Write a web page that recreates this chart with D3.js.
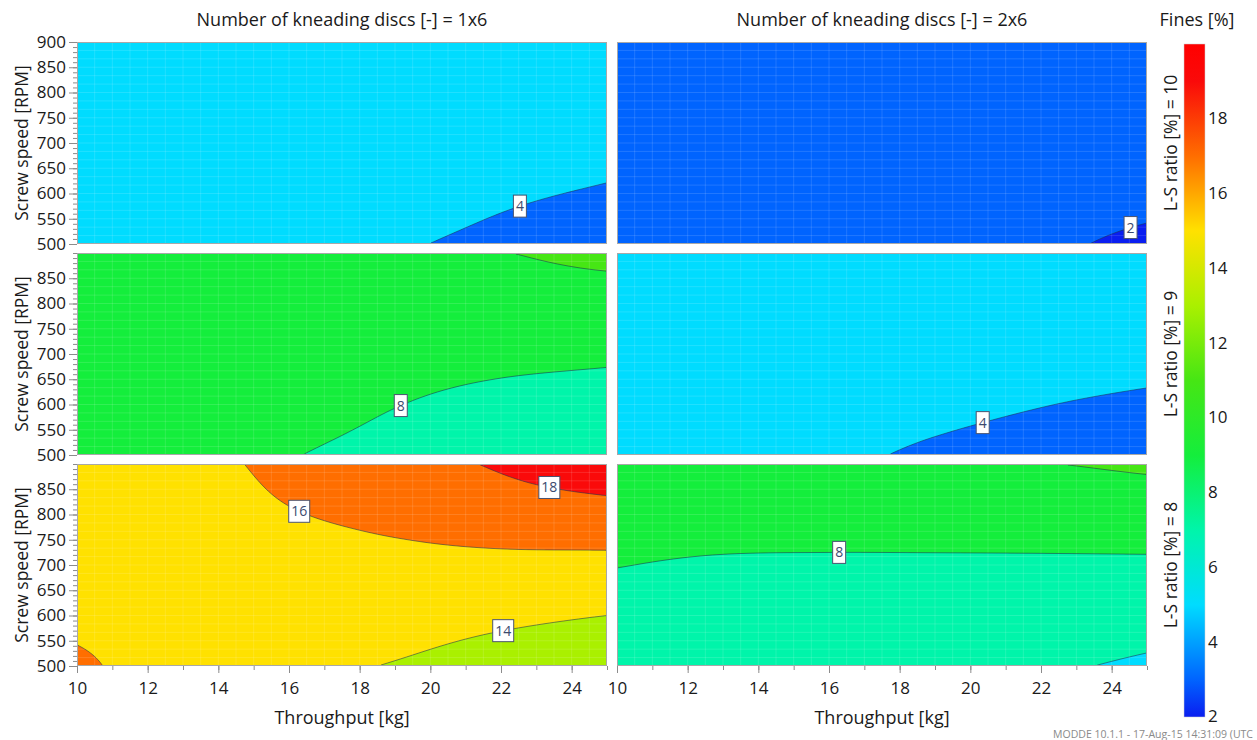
<!DOCTYPE html>
<html>
<head>
<meta charset="utf-8">
<script src="https://cdn.jsdelivr.net/npm/d3@7"></script>
<style>
  body { margin: 0; background: #fff; }
  svg { display: block; }
  text { font-family: "Open Sans", "Noto Sans", sans-serif; fill: #1a1a1a; }
</style>
</head>
<body>
<svg id="chart" width="1257" height="740"></svg>
<script>
// ---- data -------------------------------------------------------------
const discs = ["1x6", "2x6"];
const lsRatios = [10, 9, 8];
const throughputNodes = [10, 13, 16, 19, 22, 25];      // kg
const speedNodes = [500, 600, 700, 800, 900];           // RPM
// Predicted Fines [%]; one row per screw speed node (500 -> 900),
// one column per throughput node (10 -> 25)
const fines_1x6_ls10 = [
  [5.5, 5.3, 4.9, 4.22, 3.5, 2.6],
  [5.6, 5.5, 5.3, 4.9, 4.3, 3.8],
  [5.7, 5.6, 5.5, 5.3, 5.0, 4.6],
  [5.8, 5.7, 5.6, 5.5, 5.4, 5.2],
  [5.8, 5.8, 5.7, 5.7, 5.6, 5.5]
];
const fines_2x6_ls10 = [
  [3.4, 3.2, 3.0, 2.7, 2.3, 1.6],
  [3.5, 3.4, 3.2, 3.0, 2.8, 2.5],
  [3.6, 3.5, 3.4, 3.3, 3.1, 2.9],
  [3.7, 3.6, 3.5, 3.4, 3.3, 3.2],
  [3.7, 3.7, 3.6, 3.5, 3.5, 3.4]
];
const fines_1x6_ls9 = [
  [9.4, 9.0, 8.1, 7.4, 7.0, 6.7],
  [9.6, 9.3, 8.8, 8.05, 7.5, 7.2],
  [9.7, 9.5, 9.2, 8.8, 8.5, 8.3],
  [9.8, 9.7, 9.6, 9.5, 9.4, 9.3],
  [9.8, 9.8, 9.8, 9.9, 9.97, 10.4]
];
const fines_2x6_ls9 = [
  [5.5, 5.0, 4.4, 3.7, 3.2, 2.9],
  [5.7, 5.4, 5.0, 4.5, 4.05, 3.7],
  [5.8, 5.6, 5.4, 5.1, 4.8, 4.6],
  [5.9, 5.8, 5.6, 5.4, 5.3, 5.2],
  [5.9, 5.9, 5.8, 5.7, 5.6, 5.6]
];
const fines_1x6_ls8 = [
  [16.5, 14.6, 14.3, 13.93, 13.4, 13.0],
  [15.4, 15.0, 14.8, 14.6, 14.3, 14.0],
  [15.1, 15.0, 15.1, 15.4, 15.5, 15.5],
  [15.0, 15.3, 15.9, 16.5, 17.1, 17.3],
  [15.0, 15.5, 16.4, 17.3, 18.2, 19.2]
];
const fines_2x6_ls8 = [
  [7.0, 6.8, 6.7, 6.6, 6.2, 5.8],
  [7.3, 7.0, 6.9, 6.9, 6.8, 6.6],
  [8.05, 7.76, 7.7, 7.7, 7.7, 7.7],
  [9.0, 9.0, 9.0, 9.05, 9.1, 9.2],
  [9.6, 9.7, 9.8, 9.9, 9.97, 10.2]
];
const contourLevels = [2, 4, 6, 8, 10, 12, 14, 16, 18];
const throughputTicks = [10, 12, 14, 16, 18, 20, 22, 24];
const speedTicks = [500, 550, 600, 650, 700, 750, 800, 850, 900];
const colorbarTicks = [2, 4, 6, 8, 10, 12, 14, 16, 18];
// contour labels: panel, level, position along the line (0..1 from its left end)
const labelPanels = ["1x6|10", "2x6|10", "1x6|9", "2x6|9", "1x6|8", "1x6|8", "1x6|8", "2x6|8"];
const labelLevels = [4, 2, 8, 4, 16, 18, 14, 8];
const labelAlong  = [0.52, 0.72, 0.34, 0.37, 0.19, 0.56, 0.55, 0.42];

// ---- style & layout ---------------------------------------------------
// fill per band: <2, 2-4, 4-6, ..., 16-18, >=18
const bandFills = ["#0a1ef0", "#0064ff", "#00dcff", "#00f5aa", "#14ee3c",
                   "#46e614", "#aaf000", "#ffe100", "#ff6e00", "#fa0a0a"];
const colX = [77, 617], panelW = 530;
const rowY = [42, 253, 464], panelH = 202;
const nx = 265, ny = 101;

const svg = d3.select("#chart");
const defs = svg.append("defs");

function catmull(p0, p1, p2, p3, f) {
  return 0.5 * (2 * p1 + (p2 - p0) * f + (2 * p0 - 5 * p1 + 4 * p2 - p3) * f * f
    + (3 * p1 - p0 - 3 * p2 + p3) * f * f * f);
}
function sample1(arr, u) {
  const n = arr.length;
  let i = Math.floor(u);
  if (i > n - 2) i = n - 2;
  if (i < 0) i = 0;
  const f = u - i;
  const get = k => k < 0 ? 2 * arr[0] - arr[1] : (k > n - 1 ? 2 * arr[n - 1] - arr[n - 2] : arr[k]);
  return catmull(get(i - 1), get(i), get(i + 1), get(i + 2), f);
}
function surface(grid, t, s) {
  const u = (t - throughputNodes[0]) / (throughputNodes[1] - throughputNodes[0]);
  const v = (s - speedNodes[0]) / (speedNodes[1] - speedNodes[0]);
  return sample1(grid.map(row => sample1(row, u)), v);
}

const panels = [
  { disc: "1x6", ls: 10, grid: fines_1x6_ls10 },
  { disc: "2x6", ls: 10, grid: fines_2x6_ls10 },
  { disc: "1x6", ls: 9,  grid: fines_1x6_ls9 },
  { disc: "2x6", ls: 9,  grid: fines_2x6_ls9 },
  { disc: "1x6", ls: 8,  grid: fines_1x6_ls8 },
  { disc: "2x6", ls: 8,  grid: fines_2x6_ls8 }
];

panels.forEach((p, pi) => {
  const col = discs.indexOf(p.disc), row = lsRatios.indexOf(p.ls);
  const x0 = colX[col], y0 = rowY[row];
  const x = d3.scaleLinear().domain([10, 25]).range([x0, x0 + panelW]);
  const y = d3.scaleLinear().domain([500, 900]).range([y0 + panelH, y0]);
  const g = svg.append("g");
  const clipId = "clip" + pi;
  defs.append("clipPath").attr("id", clipId)
    .append("rect").attr("x", x0).attr("y", y0).attr("width", panelW).attr("height", panelH);
  const body = g.append("g").attr("clip-path", `url(#${clipId})`);

  // raster of the response surface
  const values = new Array(nx * ny);
  for (let j = 0; j < ny; j++) {
    const s = y.invert(y0 + (j + 0.5) * panelH / ny);
    for (let i = 0; i < nx; i++) {
      const t = x.invert(x0 + (i + 0.5) * panelW / nx);
      values[j * nx + i] = surface(p.grid, t, s);
    }
  }
  const contours = d3.contours().size([nx, ny]).thresholds(contourLevels)(values);
  const toPx = pt => [x0 + pt[0] * panelW / nx, y0 + pt[1] * panelH / ny];
  const path = d3.geoPath(d3.geoTransform({
    point(a, b) { const q = toPx([a, b]); this.stream.point(q[0], q[1]); }
  }));

  body.append("rect").attr("x", x0).attr("y", y0).attr("width", panelW).attr("height", panelH)
    .attr("fill", bandFills[0]);
  body.selectAll("path.band").data(contours).join("path")
    .attr("class", "band")
    .attr("d", path)
    .attr("fill", d => bandFills[contourLevels.indexOf(d.value) + 1]);

  // faint mesh lines
  const meshT = d3.range(10.5, 25, 0.5), meshS = d3.range(0, 24).map(k => 500 + k * 400 / 24);
  body.selectAll("line.mv").data(meshT).join("line").attr("class", "mv")
    .attr("x1", d => x(d)).attr("x2", d => x(d)).attr("y1", y0).attr("y2", y0 + panelH)
    .attr("stroke", "#ffffff").attr("stroke-opacity", 0.13).attr("stroke-width", 1);
  body.selectAll("line.mh").data(meshS.slice(1)).join("line").attr("class", "mh")
    .attr("y1", d => y(d)).attr("y2", d => y(d)).attr("x1", x0).attr("x2", x0 + panelW)
    .attr("stroke", "#ffffff").attr("stroke-opacity", 0.13).attr("stroke-width", 1);

  // contour lines (ring edges that do not run along the panel border)
  const onBorder = q => q[0] <= 1e-6 || q[0] >= nx - 1e-6 || q[1] <= 1e-6 || q[1] >= ny - 1e-6;
  const linesByLevel = {};
  contours.forEach(c => {
    const lines = [];
    c.coordinates.forEach(poly => poly.forEach(ring => {
      const n = ring.length - 1;
      let start = -1;
      for (let k = 0; k < n; k++) {
        if (onBorder(ring[k]) && onBorder(ring[k + 1])) { start = k + 1; break; }
      }
      if (start < 0) { lines.push(ring.slice()); return; }
      let cur = null;
      for (let m = 0; m < n; m++) {
        const a = ring[(start + m) % n], b = ring[(start + m + 1) % n];
        if (!(onBorder(a) && onBorder(b))) {
          if (!cur) cur = [a];
          cur.push(b);
        } else if (cur) { lines.push(cur); cur = null; }
      }
      if (cur) lines.push(cur);
    }));
    linesByLevel[c.value] = lines.map(l => {
      const px = l.map(toPx);
      if (px[0][0] > px[px.length - 1][0]) px.reverse();
      return px;
    });
  });
  const line = d3.line();
  contourLevels.forEach(lv => {
    body.selectAll(null).data(linesByLevel[lv] || []).join("path")
      .attr("d", line).attr("fill", "none")
      .attr("stroke", "#1e3250").attr("stroke-opacity", 0.55).attr("stroke-width", 1);
  });

  // contour labels
  const key = p.disc + "|" + p.ls;
  labelPanels.forEach((lp, k) => {
    if (lp !== key) return;
    const lines = linesByLevel[labelLevels[k]] || [];
    if (!lines.length) return;
    const best = lines.reduce((a, b) => (lineLen(b) > lineLen(a) ? b : a));
    const pt = pointAlong(best, labelAlong[k]);
    const txt = String(labelLevels[k]);
    const bw = txt.length > 1 ? 21 : 13, bh = 22;
    const lg = g.append("g");
    lg.append("rect").attr("x", pt[0] - bw / 2).attr("y", pt[1] - bh / 2)
      .attr("width", bw).attr("height", bh)
      .attr("fill", "#fff").attr("stroke", "#4a5470").attr("stroke-width", 1);
    lg.append("text").attr("x", pt[0]).attr("y", pt[1] + 5).attr("text-anchor", "middle")
      .style("font-size", "14px").style("fill", "#3c4a6e").text(txt);
  });

  // frame
  g.append("rect").attr("x", x0 + 0.5).attr("y", y0 + 0.5).attr("width", panelW - 1).attr("height", panelH - 1)
    .attr("fill", "none").attr("stroke", "#a8a8a8").attr("stroke-width", 1);

  // y axis on the left column
  if (col === 0) {
    const yAxis = g.append("g").attr("transform", `translate(${x0},0)`);
    yAxis.call(d3.axisLeft(y).tickValues(d3.range(500, 901, 10)).tickSize(4).tickFormat(""))
      .call(a => a.select(".domain").remove())
      .call(a => a.selectAll("line").attr("stroke", "#8c8c8c"));
    const shown = row === 0 ? speedTicks : speedTicks.filter(v => v < 900);
    const yMaj = g.append("g").attr("transform", `translate(${x0},0)`);
    yMaj.call(d3.axisLeft(y).tickValues(shown).tickSize(8).tickPadding(3))
      .call(a => a.select(".domain").remove())
      .call(a => a.selectAll("line").attr("stroke", "#8c8c8c"))
      .call(a => a.selectAll("text").style("font-size", "17px").style("fill", "#1a1a1a")
        .style("font-family", '"Open Sans", sans-serif'));
    g.append("text").attr("transform", `translate(${22},${y0 + panelH / 2}) rotate(-90)`)
      .attr("text-anchor", "middle").attr("dy", "0.35em").style("font-size", "17.5px")
      .text("Screw speed [RPM]");
  }
  // x axis on the bottom row
  if (row === lsRatios.length - 1) {
    const xm = g.append("g").attr("transform", `translate(0,${y0 + panelH})`);
    xm.call(d3.axisBottom(x).tickValues(d3.range(10, 25.01, 1)).tickSize(4).tickFormat(""))
      .call(a => a.select(".domain").remove())
      .call(a => a.selectAll("line").attr("stroke", "#8c8c8c"));
    const xa = g.append("g").attr("transform", `translate(0,${y0 + panelH})`);
    xa.call(d3.axisBottom(x).tickValues(throughputTicks).tickSize(7).tickPadding(9))
      .call(a => a.select(".domain").remove())
      .call(a => a.selectAll("line").attr("stroke", "#8c8c8c"))
      .call(a => a.selectAll("text").style("font-size", "17px").style("fill", "#1a1a1a")
        .style("font-family", '"Open Sans", sans-serif'));
    g.append("text").attr("x", x0 + panelW / 2).attr("y", 724).attr("text-anchor", "middle")
      .style("font-size", "18px").text("Throughput [kg]");
  }
  if (row === 0) {
    g.append("text").attr("x", x0 + panelW / 2).attr("y", 26).attr("text-anchor", "middle")
      .style("font-size", "18px").text("Number of kneading discs [-] = " + p.disc);
  }
  if (col === discs.length - 1) {
    g.append("text").attr("transform", `translate(${1171},${y0 + panelH / 2}) rotate(-90)`)
      .attr("text-anchor", "middle").attr("dy", "0.35em").style("font-size", "17.5px")
      .text("L-S ratio [%] = " + p.ls);
  }
});

function lineLen(pts) {
  let L = 0;
  for (let i = 1; i < pts.length; i++) L += Math.hypot(pts[i][0] - pts[i - 1][0], pts[i][1] - pts[i - 1][1]);
  return L;
}
function pointAlong(pts, f) {
  const target = lineLen(pts) * f;
  let acc = 0;
  for (let i = 1; i < pts.length; i++) {
    const d = Math.hypot(pts[i][0] - pts[i - 1][0], pts[i][1] - pts[i - 1][1]);
    if (acc + d >= target) {
      const r = d ? (target - acc) / d : 0;
      return [pts[i - 1][0] + r * (pts[i][0] - pts[i - 1][0]), pts[i - 1][1] + r * (pts[i][1] - pts[i - 1][1])];
    }
    acc += d;
  }
  return pts[pts.length - 1];
}

// ---- colour bar -------------------------------------------------------
const cb = d3.scaleLinear().domain([2, 20]).range([717, 44]);
const grad = defs.append("linearGradient").attr("id", "cbGrad")
  .attr("x1", 0).attr("y1", 1).attr("x2", 0).attr("y2", 0);
const gradStops = [[2, bandFills[0]]].concat(
  bandFills.slice(1).map((c, i) => [contourLevels[i] + 1, c]), [[20, "#ff0000"]]);
grad.selectAll("stop").data(gradStops).join("stop")
  .attr("offset", d => (d[0] - 2) / 18).attr("stop-color", d => d[1]);
svg.append("rect").attr("x", 1184).attr("y", cb(20)).attr("width", 21).attr("height", cb(2) - cb(20))
  .attr("fill", "url(#cbGrad)").attr("stroke", "#d0d0d0").attr("stroke-width", 0.5);
svg.append("g").selectAll("text").data(colorbarTicks).join("text")
  .attr("x", 1208).attr("y", d => cb(d)).attr("dy", "0.32em")
  .style("font-size", "17px").text(d => d);
svg.append("text").attr("x", 1197).attr("y", 26).attr("text-anchor", "middle")
  .style("font-size", "18px").text("Fines [%]");

svg.append("text").attr("x", 1053).attr("y", 738)
  .attr("textLength", 200).attr("lengthAdjust", "spacingAndGlyphs")
  .style("font-size", "10.8px").style("fill", "#8a8a8a")
  .text("MODDE 10.1.1 - 17-Aug-15 14:31:09 (UTC");
</script>
</body>
</html>
